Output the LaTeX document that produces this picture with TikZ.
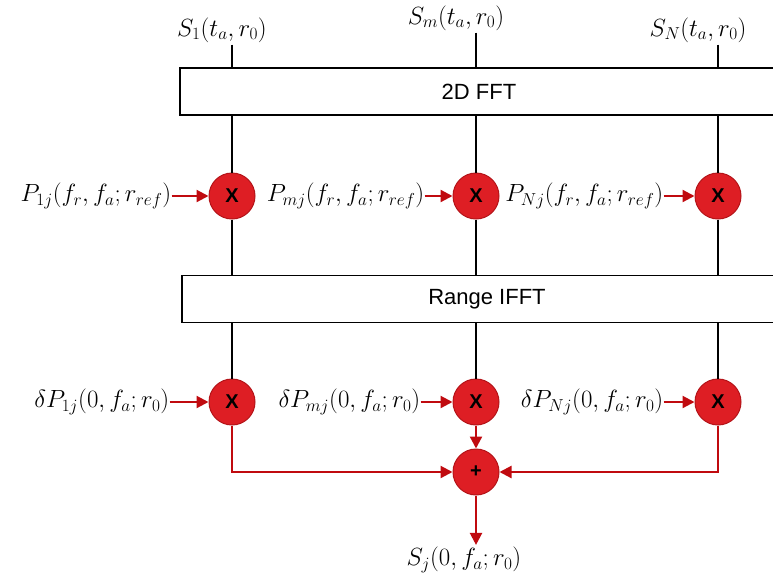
\documentclass[tikz,border=0pt]{standalone}
\usepackage{amsmath, amssymb}
\usepackage{fontspec}
\newfontfamily\boxfont{Liberation Sans}
\usepackage{xcolor}
\usetikzlibrary{positioning, arrows.meta}
\definecolor{opfill}{RGB}{222,30,36}
\definecolor{opline}{RGB}{180,20,25}
\definecolor{arrred}{RGB}{192,10,15}

\begin{document}
\begin{tikzpicture}[x=1pt, y=-1pt, every node/.style={inner sep=2pt},
  lbl/.style={font=\fontsize{26}{30}\selectfont},
  stage/.style={draw, line width=1.4pt, minimum height=47pt, font=\boxfont\fontsize{22}{26}\selectfont},
  op/.style={circle, fill=opfill, draw=opline, line width=1pt, minimum size=46pt, inner sep=0pt,
    font=\boxfont\bfseries\fontsize{20}{24}\selectfont},
  wire/.style={line width=1.4pt, black},
  arr/.style={-{Triangle[length=12pt, width=12pt]}, arrred, line width=2.2pt}]
\useasboundingbox (0,0) rectangle (773,579);
\clip (0,0) rectangle (773,579);
% processing stages
\node[stage, minimum width=598pt] (fft) at (479,91.5) {2D FFT};
\node[stage, minimum width=610pt] (ifft) at (487,299) {Range IFFT};
% multipliers and summer
\node[op] (m1) at (232,196) {X};
\node[op] (mm) at (476,196) {X};
\node[op] (mN) at (718,196) {X};
\node[op] (d1) at (232,402) {X};
\node[op] (dm) at (476,402) {X};
\node[op] (dN) at (718,402) {X};
\node[op] (sum) at (476,472) {+};
% inputs
\node[lbl] (s1) at (222,30) {$S_1(t_a,r_0)$};
\node[lbl] (sm) at (456,18) {$S_m(t_a,r_0)$};
\node[lbl] (sN) at (698,30) {$S_N(t_a,r_0)$};
\node[lbl, left=37pt of m1, inner sep=0pt] (p1) {$P_{1j}(f_r,f_a;r_{ref})$};
\node[lbl, left=28pt of mm, inner sep=0pt] (pm) {$P_{mj}(f_r,f_a;r_{ref})$};
\node[lbl, left=31pt of mN, inner sep=0pt] (pN) {$P_{Nj}(f_r,f_a;r_{ref})$};
\node[lbl, left=39pt of d1, inner sep=0pt] (q1) {$\delta P_{1j}(0,f_a;r_0)$};
\node[lbl, left=32pt of dm, inner sep=0pt] (qm) {$\delta P_{mj}(0,f_a;r_0)$};
\node[lbl, left=31pt of dN, inner sep=0pt] (qN) {$\delta P_{Nj}(0,f_a;r_0)$};
\node[lbl] (out) at (464,560) {$S_j(0,f_a;r_0)$};
% black signal lines
\foreach \s/\m/\d in {s1/m1/d1, sm/mm/dm, sN/mN/dN} {
  \draw[wire] (\s.south -| \m) -- (fft.north -| \m);
  \draw[wire] (fft.south -| \m) -- (\m.north);
  \draw[wire] (\m.south) -- (ifft.north -| \m);
  \draw[wire] (ifft.south -| \m) -- (\d.north);
}
% red reference inputs
\foreach \p/\m in {p1/m1, pm/mm, pN/mN, q1/d1, qm/dm, qN/dN}
  \draw[arr] (\p) -- (\m);
% summation
\draw[arr] (d1.south) |- (sum.west);
\draw[arr] (dN.south) |- (sum.east);
\draw[arr] (dm) -- (sum);
\draw[arr] (sum) -- (sum |- out.north);
\end{tikzpicture}
\end{document}
